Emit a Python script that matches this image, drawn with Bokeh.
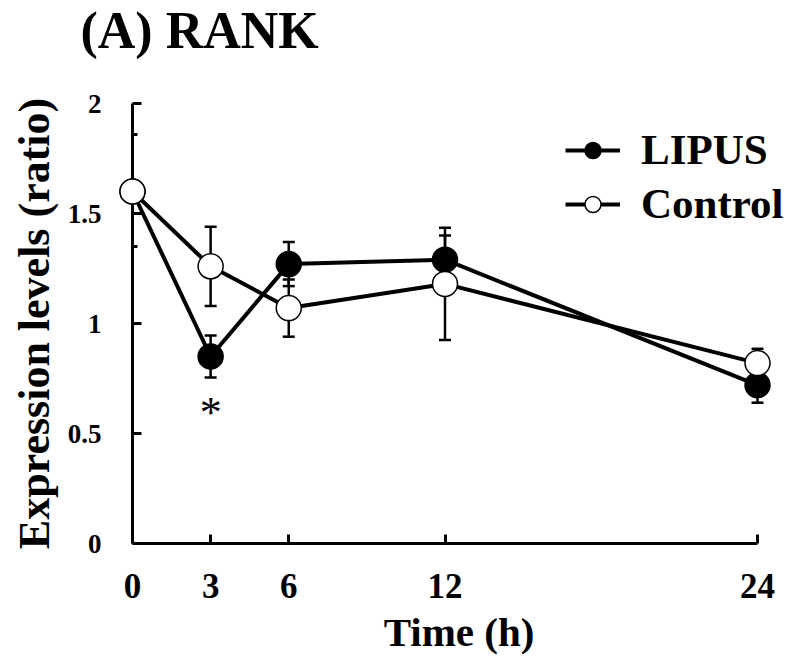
from bokeh.plotting import figure
from bokeh.models import (Range1d, FixedTicker, Whisker, TeeHead, ColumnDataSource,
                          Legend, LegendItem, Title)
from bokeh.core.properties import value
from bokeh.embed import file_html
from bokeh.resources import INLINE

# ---- data ----
times = [0, 3, 6, 12, 24]
lipus = [1.60, 0.85, 1.27, 1.29, 0.72]
lipus_se = [0.0, 0.095, 0.10, 0.11, 0.08]
control = [1.60, 1.26, 1.07, 1.18, 0.82]
control_se = [0.0, 0.18, 0.13, 0.255, 0.065]
significance = ["", "*", "", "", ""]
y_ticks = [0, 0.5, 1, 1.5, 2]
y_minor_ticks = [1.35, 1.86]
x_tick_labels = ["0", "3", "6", "12", "24"]

FONT = "Liberation Serif"

src_l = ColumnDataSource(dict(
    x=times, y=lipus,
    lo=[v - e for v, e in zip(lipus, lipus_se)],
    hi=[v + e for v, e in zip(lipus, lipus_se)],
    sig=significance))
src_c = ColumnDataSource(dict(
    x=times, y=control,
    lo=[v - e for v, e in zip(control, control_se)],
    hi=[v + e for v, e in zip(control, control_se)]))

# frame: x=0 at 132px, x=24 at 757px; extra room on the right for the legend
p = figure(width=790, height=662, x_range=Range1d(0, 25.075), y_range=Range1d(0, 2),
           output_backend="svg", toolbar_location=None,
           min_border_left=132, min_border_right=5, min_border_top=103,
           min_border_bottom=119)
p.outline_line_color = None
p.xgrid.visible = False
p.ygrid.visible = False
p.background_fill_color = "white"

# spacer between the title and the frame
p.add_layout(Title(text=" ", text_font_size="2px", standoff=39), "above")

# title
p.title.text = "(A) RANK"
p.title.text_font = FONT
p.title.text_font_size = "52px"
p.title.text_font_style = "bold"
p.title.text_color = "black"
p.title.align = "left"
p.title.vertical_align = "top"
p.title.offset = -52
p.title.standoff = 0

# axes
for ax in (p.xaxis[0], p.yaxis[0]):
    ax.axis_line_width = 3
    ax.axis_line_color = "black"
    ax.major_tick_line_width = 3
    ax.major_tick_line_color = "black"
    ax.minor_tick_line_width = 3
    ax.minor_tick_line_color = "black"
    ax.major_tick_in = 9
    ax.major_tick_out = 0
    ax.minor_tick_in = 5
    ax.minor_tick_out = 0
    ax.major_label_text_font = FONT
    ax.major_label_text_font_style = "bold"
    ax.major_label_text_color = "black"
    ax.axis_label_text_font = FONT
    ax.axis_label_text_font_style = "bold"
    ax.axis_label_text_color = "black"

p.xaxis.bounds = (0, 24)
p.xaxis.ticker = FixedTicker(ticks=times)
p.xaxis.major_label_overrides = {t: s for t, s in zip(times, x_tick_labels)}
p.xaxis.major_label_text_font_size = "35px"
p.xaxis.major_label_standoff = 30
p.xaxis.axis_label = "Time (h)"
p.xaxis.axis_label_text_font_size = "41px"
p.xaxis.axis_label_standoff = 8

p.yaxis.ticker = FixedTicker(ticks=y_ticks, minor_ticks=y_minor_ticks)
p.yaxis.major_label_overrides = {0: "0", 0.5: "0.5", 1: "1", 1.5: "1.5", 2: "2"}
p.yaxis.major_label_text_font_size = "27px"
p.yaxis.major_label_standoff = 31
p.yaxis.axis_label = "Expression levels (ratio)"
p.yaxis.axis_label_text_font_size = "44px"
p.yaxis.axis_label_standoff = 6

# error bars
for src in (src_l, src_c):
    w = Whisker(source=src, base="x", upper="hi", lower="lo",
                line_width=2.5, line_color="black",
                upper_head=TeeHead(size=12, line_width=2.5, line_color="black"),
                lower_head=TeeHead(size=12, line_width=2.5, line_color="black"))
    p.add_layout(w)

# lines
line_l = p.line("x", "y", source=src_l, line_width=4, line_color="black", level="overlay")
line_c = p.line("x", "y", source=src_c, line_width=4, line_color="black", level="overlay")

# markers
mk_l = p.scatter("x", "y", source=src_l, size=25, fill_color="black",
                 line_color="black", line_width=1.5, level="overlay")
mk_c = p.scatter("x", "y", source=src_c, size=25, fill_color="white",
                 line_color="black", line_width=1.5, level="overlay")

# significance asterisk
p.text("x", "lo", text="sig", source=src_l, text_font=value(FONT),
       text_font_size="44px", text_align="center", text_baseline="alphabetic",
       y_offset=35, text_color="black", level="overlay")

legend = Legend(items=[LegendItem(label="LIPUS", renderers=[line_l, mk_l]),
                       LegendItem(label="Control", renderers=[line_c, mk_c])],
                location=(433, 315), glyph_width=55, glyph_height=40,
                label_height=46, label_standoff=21, spacing=5, padding=0,
                margin=0, border_line_color=None, background_fill_alpha=0,
                label_text_font=FONT, label_text_font_size="43px",
                label_text_font_style="bold", label_text_color="black")
p.add_layout(legend)

open("out.html", "w").write(file_html(p, INLINE))
